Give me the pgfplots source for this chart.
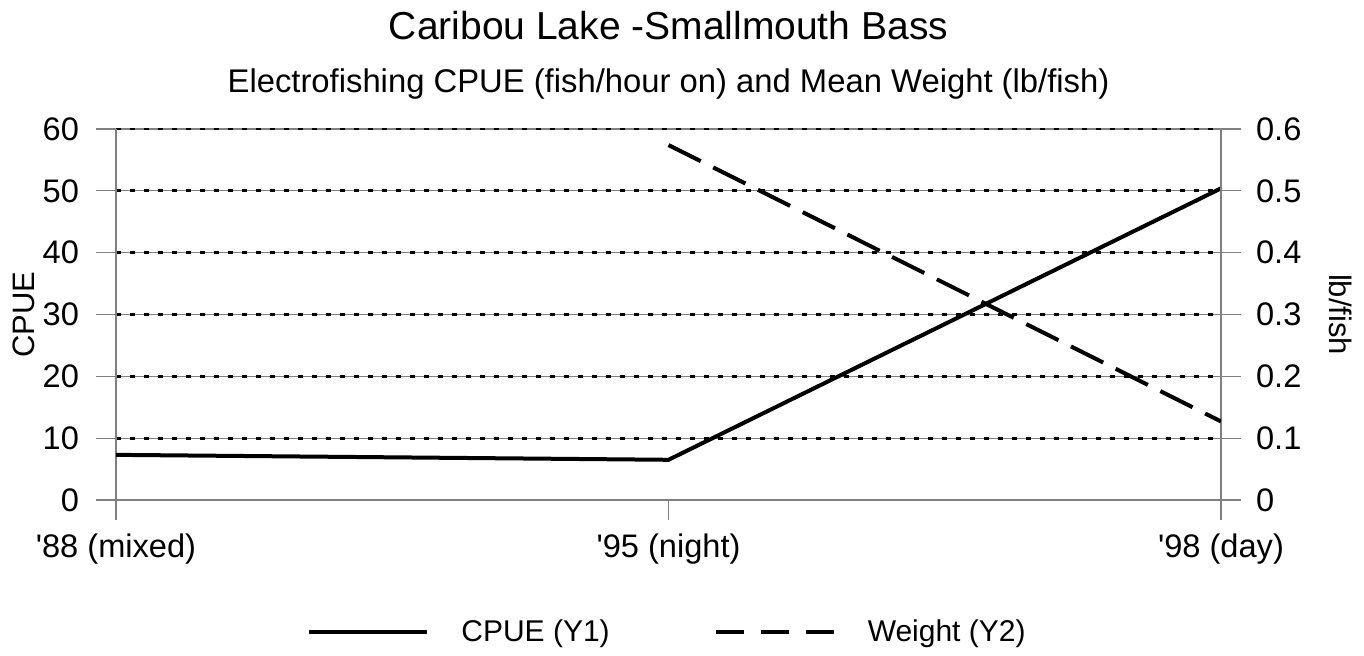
\documentclass[border=0pt]{standalone}
\usepackage{fontspec}
\setmainfont{Liberation Sans}
\usepackage{pgfplots}
\pgfplotsset{compat=1.18}

\pgfplotsset{
  common/.style={
    scale only axis, width=552.5pt, height=185.5pt,
    xmin=0, xmax=2,
    /pgf/number format/assume math mode=true,
    tick label style={font=\fontsize{16.3}{19}\selectfont},
    label style={font=\fontsize{15.5}{18}\selectfont},
    axis line style={draw=black!50, line width=0.6pt},
    tick style={draw=black!50, line width=0.6pt},
    major tick length=10pt,
    tick align=outside,
  }
}

\begin{document}
\begin{tikzpicture}
\useasboundingbox (-58pt,-78pt) rectangle (624pt,250pt);
\begin{axis}[common, name=main,
  ymin=0, ymax=60, ytick={0,10,20,30,40,50,60},
  ytick pos=left,
  axis x line*=bottom,
  xtick={0,1,2},
  xticklabels={\textquotesingle88 (mixed),\textquotesingle95 (night),\textquotesingle98 (day)},
  xticklabel style={yshift=-3.5pt},
  yticklabel style={xshift=-5pt},
  ylabel={CPUE}, ylabel shift=-3pt,
  ymajorgrids,
  major grid style={draw=black!50, line width=0.6pt,
    postaction={draw=black, solid, line width=1.4pt, dash pattern=on 2.3pt off 4.7pt}},
  legend style={draw=none, at={(0.5,-0.356)}, anchor=center,
    font=\fontsize{15}{18}\selectfont, column sep=14pt,
    /tikz/every even column/.append style={column sep=50pt}},
  legend columns=2,
  legend image code/.code={\draw[#1] (0pt,0pt) -- (59pt,0pt);},
]
\addplot[black, line width=2pt] coordinates {(0,7.3) (1,6.5) (2,50.4)};
\addlegendentry{CPUE (Y1)}
\addlegendimage{black, line width=2pt, dash pattern=on 14pt off 8.5pt}
\addlegendentry{Weight (Y2)}
\end{axis}
\begin{axis}[common,
  ymin=0, ymax=0.6, ytick={0,0.1,0.2,0.3,0.4,0.5,0.6},
  axis y line*=right, axis x line=none,
  yticklabel style={/pgf/number format/fixed, /pgf/number format/precision=1, xshift=4pt},
  ylabel={lb/fish}, ylabel style={rotate=180}, ylabel shift=7pt,
]
\addplot[black, line width=2pt, dash pattern=on 18pt off 7pt] coordinates {(1,0.574) (2,0.127)};
\end{axis}
\node[anchor=base, font=\fontsize{19.5}{23}\selectfont] at ([yshift=44.5pt]main.north) {Caribou Lake -Smallmouth Bass};
\node[anchor=base, font=\fontsize{16.4}{19}\selectfont] at ([yshift=18pt]main.north) {Electrofishing CPUE (fish/hour on) and Mean Weight (lb/fish)};
\end{tikzpicture}
\end{document}
